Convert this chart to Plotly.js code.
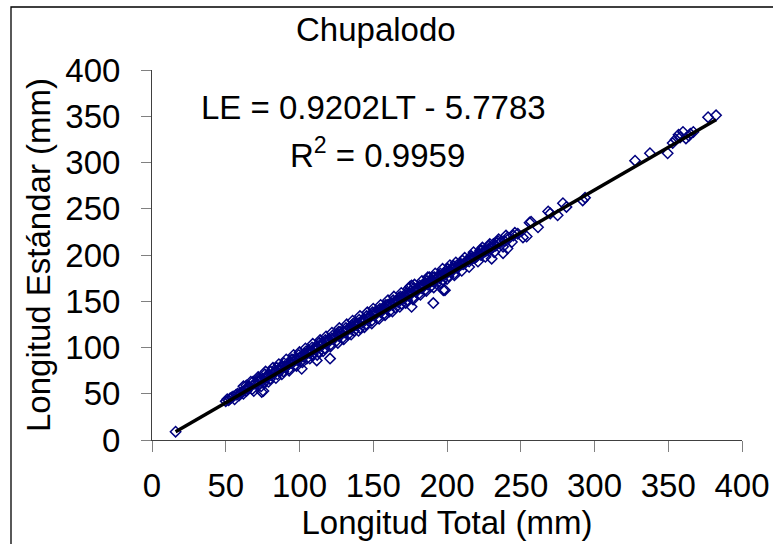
<!DOCTYPE html>
<html>
<head>
<meta charset="utf-8">
<script src="https://cdn.plot.ly/plotly-3.0.1.min.js"></script>
<style>html,body{margin:0;padding:0;background:#fff;}#chart{width:773px;height:544px;}</style>
</head>
<body>
<div id="chart"></div>
<script>
// Longitud Total (mm)
const LT = [
16,
50,51,52,53,54,55,56,57,58,59,60,61,62,63,64,65,66,68,
70,72,74,76,77,79,80,82,83,85,86,88,89,90,92,93,94,96,97,98,
100,101,102,104,105,106,108,109,110,112,113,114,116,117,118,
120,121,122,124,125,126,128,129,130,132,133,134,136,137,138,
140,141,142,144,145,146,148,149,150,152,153,154,156,157,158,
160,161,162,164,165,166,168,169,170,172,173,174,176,177,178,
180,181,182,184,185,186,188,189,190,192,193,194,196,197,198,
200,201,202,204,205,206,208,210,212,214,216,218,220,222,224,226,228,230,233,236,239,242,245,248,
71,75,78,81,84,87,91,95,99,103,107,111,115,119,123,127,131,135,139,143,147,151,155,159,163,167,171,175,179,183,187,191,195,199,203,207,211,215,219,223,227,231,
73,87.5,95.5,103.5,111.5,119.5,127.5,135.5,143.5,151.5,159.5,167.5,175.5,183.5,191.5,199.5,207.5,215.5,223.5,231.5,
62,67,72,77,82,86,91,96,100,104,109,114,118,122,127,132,136,141,146,150,155,160,164,169,174,178,183,188,192,197,202,206,212,218,224,229,235,240,
69,74,79,84,88,93,98,102,107,112,116,121,126,130,135,140,144,149,154,158,163,168,172,177,182,186,191,196,200,205,210,215,221,226,232,238,244,
65.5,69.5,73.5,78.5,83.5,88.5,92.5,97.5,101.5,106.5,110.5,115.5,120.5,124.5,129.5,134.5,138.5,142.5,147.5,152.5,156.5,161.5,165.5,170.5,174.5,179.5,184.5,188.5,193.5,198.5,203.5,209,213,217,221,225,229,234,237,241,246,
64,68.5,72.5,76.5,80.5,84.5,89.5,94.5,99.5,104.5,108.5,113.5,117.5,122.5,126.5,131.5,136.5,140.5,145.5,149.5,154.5,158.5,163.5,168.5,172.5,177.5,181.5,186.5,190.5,195.5,200.5,204.5,210.5,216.5,222.5,228.5,234.5,
75.5,74.4,101.5,111.7,120.7,176,190.7,197.5,198.6,175,187,176,230.3,238,254,257,268.6,
241,251.5,256,261.7,270,275,278.6,281,292,293.6,
327.5,337.6,349.6,353,355,357,358,360,362,364,365,367,377,382.4
];
// Longitud Estándar (mm)
const LE = [
9,
42,44,43,45,46,47,44,49,50,48,51,52,50,54,53,55,57,55,
61,63,65,62,68,69,66,72,73,71,76,78,74,80,81,77,84,85,81,87,
89,85,91,93,88,95,96,92,99,100,95,103,104,99,106,
108,103,110,111,107,114,115,110,117,119,114,121,123,118,125,
126,121,128,130,125,132,134,129,136,137,132,140,141,136,143,
145,139,147,149,143,150,152,147,154,156,151,158,159,154,161,
163,158,165,167,162,169,170,166,172,174,169,176,178,173,180,
181,177,183,185,180,187,188,190,191,194,195,197,198,201,202,204,206,207,210,213,215,218,221,223,
60,64,67,70,74,75,79,83,86,90,94,97,102,105,109,112,116,120,124,127,131,135,138,142,146,149,153,157,160,164,168,171,175,179,182,186,190,193,197,200,205,208,
66,79,87,94,102,109,117,124,131,139,146,154,161,168,176,183,190,197,205,212,
58,63,68,74,78,82,87,92,95,99,104,108,112,116,121,125,129,134,138,142,146,151,155,159,164,168,172,176,180,185,189,192,197,203,208,212,217,221,
53,58,63,67,71,75,80,84,88,92,96,101,105,109,114,118,122,126,131,135,139,144,148,152,157,161,165,170,174,178,183,187,193,198,203,209,214,
58,61,65,70,74,79,82,87,91,95,99,104,108,112,117,121,125,129,133,138,141,146,150,154,158,163,167,171,175,180,185,190,193,197,201,204,208,213,215,219,224,
59,63,67,71,74,78,83,87,92,96,100,105,108,113,117,121,126,130,134,138,142,146,151,155,159,164,167,172,176,180,185,188,194,199,205,210,215,
53,52,77,86,88,144,148,162,162,166,176,167,196,202,220,236,247,
207,219,235,230,245,243,256,252,259,262,
302,310,310,321,325,330,327,333,326,329,331,333,349,351
];
// Trendline from the chart's equation
const slope = 0.9202;
const intercept = -5.7783;
const r2 = 0.9959;
const xTicks = [0,50,100,150,200,250,300,350,400];
const yTicks = [0,50,100,150,200,250,300,350,400];

const xmin = Math.min(...LT), xmax = Math.max(...LT);
const font = 'Liberation Sans, Arial, sans-serif';
const fs = 33;

const pxX = p => (p - 152) / 590;
const pxY = p => (440 - p) / 370;

const data = [
  {x: LT, y: LE, type: 'scatter', mode: 'markers',
   marker: {symbol: 'diamond-open', size: 8, color: '#000080', line: {width: 1.5, color: '#000080'}},
   hoverinfo: 'x+y', cliponaxis: false},
  {x: [xmin, xmax], y: [slope * xmin + intercept, slope * xmax + intercept],
   type: 'scatter', mode: 'lines', line: {color: '#000000', width: 3.5}, hoverinfo: 'skip'}
];

const layout = {
  width: 773, height: 544,
  margin: {l: 152, r: 31, t: 70, b: 104},
  paper_bgcolor: '#ffffff', plot_bgcolor: '#ffffff',
  showlegend: false,
  font: {family: font, size: fs, color: '#000'},
  xaxis: {
    range: [0, 400], tickvals: xTicks, ticktext: xTicks.map(String),
    showgrid: false, zeroline: false, showline: true, linecolor: '#404040', linewidth: 1,
    ticks: 'outside', ticklen: 11, tickcolor: '#808080', tickwidth: 1,
    ticklabelstandoff: 5,
    tickfont: {family: font, size: fs, color: '#000'},
    title: {text: 'Longitud Total (mm)', font: {family: font, size: fs, color: '#000'}, standoff: 0},
    fixedrange: true
  },
  yaxis: {
    range: [0, 400], tickvals: yTicks, ticktext: yTicks.map(String),
    showgrid: false, zeroline: false, showline: true, linecolor: '#404040', linewidth: 1,
    ticks: 'outside', ticklen: 10, tickcolor: '#808080', tickwidth: 1,
    ticklabelstandoff: 14,
    tickfont: {family: font, size: fs, color: '#000'},
    title: {text: 'Longitud Estándar (mm)', font: {family: font, size: fs, color: '#000'}, standoff: 4},
    fixedrange: true
  },
  annotations: [
    {text: 'Chupalodo', xref: 'paper', yref: 'paper', x: pxX(376), y: pxY(29),
     xanchor: 'center', yanchor: 'middle', showarrow: false, font: {family: font, size: fs, color: '#000'}},
    {text: 'LE = ' + slope.toFixed(4) + 'LT - ' + Math.abs(intercept).toFixed(4), xref: 'paper', yref: 'paper',
     x: pxX(373), y: pxY(108), xanchor: 'center', yanchor: 'middle', showarrow: false,
     font: {family: font, size: fs, color: '#000'}},
    {text: 'R<sup>2</sup> = ' + r2.toFixed(4), xref: 'paper', yref: 'paper',
     x: pxX(377), y: pxY(153), xanchor: 'center', yanchor: 'middle', showarrow: false,
     font: {family: font, size: fs, color: '#000'}}
  ],
  shapes: [
    {type: 'rect', xref: 'paper', yref: 'paper', x0: pxX(11), x1: pxX(790), y0: pxY(560), y1: pxY(7),
     line: {color: '#000', width: 1.3}, fillcolor: 'rgba(0,0,0,0)', layer: 'below'}
  ]
};

Plotly.newPlot('chart', data, layout, {displayModeBar: false, staticPlot: true});
</script>
</body>
</html>
